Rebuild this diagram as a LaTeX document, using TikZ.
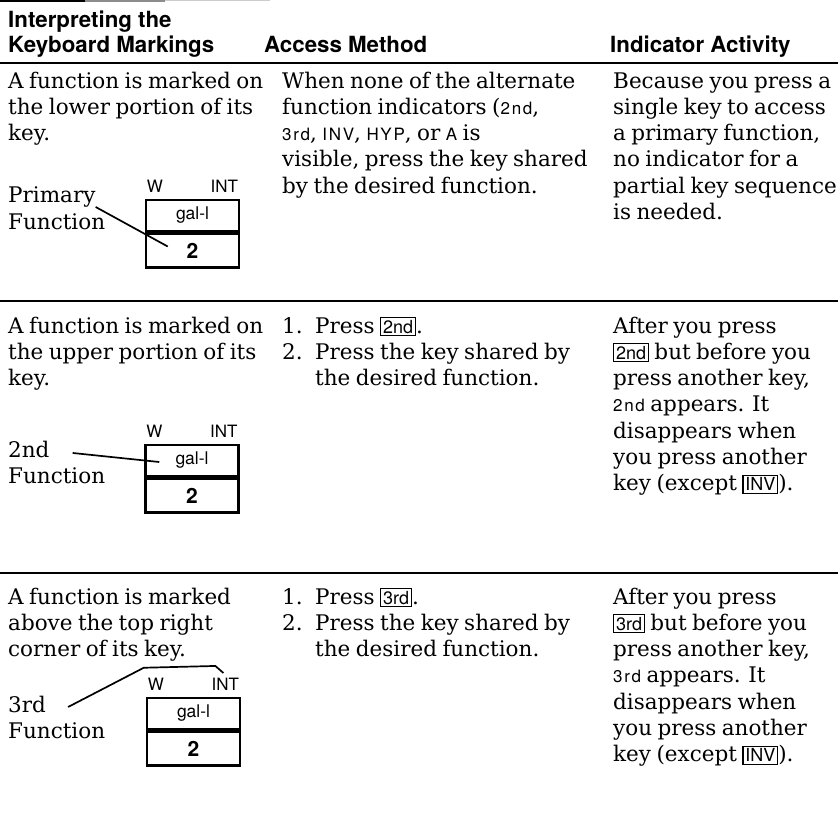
\documentclass[tikz,border=0pt]{standalone}
\usepackage{fontspec}
\setmainfont[WordSpace=0.8]{DejaVu Serif}
\setsansfont{TeX Gyre Heros}
\newfontfamily\indfont[LetterSpace=10]{TeX Gyre Heros}
\usetikzlibrary{positioning,calc}

\newcommand{\ind}[1]{{\indfont\fontsize{17}{17}\selectfont #1}}
\newcommand{\calckey}[1]{{\setlength{\fboxsep}{1.8pt}\setlength{\fboxrule}{1.1pt}\fbox{\sffamily\fontsize{18}{18}\selectfont #1}}}

\begin{document}
\begin{tikzpicture}[
    x=1pt, y=-1pt,
    % multi-line nodes sit on the baseline of their last line
    body/.style = {anchor=base west, align=left, inner sep=0pt, font=\fontsize{21.5}{26.3}\selectfont},
    head/.style = {anchor=base west, align=left, inner sep=0pt, font=\sffamily\bfseries\fontsize{22.3}{25}\selectfont},
    keytop/.style = {draw, line width=2.5pt, minimum width=93pt, minimum height=31pt, inner sep=0pt, font=\sffamily\fontsize{17.5}{17.5}\selectfont},
    keybot/.style = {keytop, minimum height=34pt, font=\sffamily\bfseries\fontsize{21}{21}\selectfont},
    keymark/.style = {inner sep=0pt, font=\sffamily\fontsize{17}{17}\selectfont},
    rule/.style = {line width=2.2pt},
    leader/.style = {line width=1.7pt}
  ]
  \useasboundingbox (0,0) rectangle (838,824);
  \fill[white] (0,0) rectangle (838,824);
  % Top edge.
  \draw[line width=2pt] (0,1) -- (85,1);
  \draw[line width=1.5pt, black!45] (85,1) -- (165,1);
  \draw[line width=1pt, black!20] (165,1) -- (270,1);

  % Header.
  \node[head] (h1) at (8,53) {Interpreting the\\Keyboard Markings};
  \node[head] (h2) at (264,53) {Access Method};
  \node[head] (h3) at (610,53) {Indicator Activity};
  \draw[rule] (0,63) -- (838,63);

  % Row 1.
  \node[body] (r1a) at (8,140.6) {A function is marked on\\the lower portion of its\\key.};
  \node[body] (r1b) at (282,193.2) {When none of the alternate\\function indicators (\ind{2nd},\\\ind{3rd}, \ind{INV}, \ind{HYP}, or \ind{A} is\\visible, press the key shared\\by the desired function.};
  \node[body] (r1c) at (613,219.5) {Because you press a\\single key to access\\a primary function,\\no indicator for a\\partial key sequence\\is needed.};
  \node[body] (lab1) at (8,202) {Primary};
  \node[body] (lab1f) at (8,229) {Function};
  \node[keytop] (k1a) at (192.5,215.5) {gal-l};
  \node[keybot, below=0pt of k1a] (k1b) {2};
  \node[keymark, above right=6pt and 2pt of k1a.north west] (w1) {W};
  \node[keymark, above left=6pt and 2pt of k1a.north east] (int1) {INT};
  \coordinate (t1) at ($(k1b.west)+(23,-4)$);
  \draw[leader] (lab1.south east) -- (t1);
  \draw[rule, line width=2pt] (0,301) -- (838,301);

  % Row 2.
  \node[body] (r2a) at (8,385.6) {A function is marked on\\the upper portion of its\\key.};
  \node[body] (n2) at (282,359.3) {1.\\2.};
  \node[body] (r2b) at (315,385.6) {Press \calckey{2nd}.\\Press the key shared by\\the desired function.};
  \node[body] (r2c) at (613,490.8) {After you press\\\calckey{2nd} but before you\\press another key,\\\ind{2nd} appears. It\\disappears when\\you press another\\key (except \calckey{INV}).};
  \node[body] (lab2) at (8,457) {2nd};
  \node[body] (lab2f) at (8,483) {Function};
  \node[keytop] (k2a) at (192,460.5) {gal-l};
  \node[keybot, below=0pt of k2a] (k2b) {2};
  \node[keymark, above right=6pt and 2pt of k2a.north west] (w2) {W};
  \node[keymark, above left=6pt and 2pt of k2a.north east] (int2) {INT};
  \coordinate (t2) at ($(k2a.west)+(15,1.5)$);
  \draw[leader] ($(lab2.east)+(23,4)$) -- (t2);
  \draw[rule, line width=2pt] (0,573) -- (838,573);

  % Row 3.
  \node[body] (r3a) at (8,656.6) {A function is marked\\above the top right\\corner of its key.};
  \node[body] (n3) at (282,630.3) {1.\\2.};
  \node[body] (r3b) at (315,656.6) {Press \calckey{3rd}.\\Press the key shared by\\the desired function.};
  \node[body] (r3c) at (613,761.8) {After you press\\\calckey{3rd} but before you\\press another key,\\\ind{3rd} appears. It\\disappears when\\you press another\\key (except \calckey{INV}).};
  \node[body] (lab3) at (8,712) {3rd};
  \node[body] (lab3f) at (8,738) {Function};
  \node[keytop] (k3a) at (193.5,713.5) {gal-l};
  \node[keybot, below=0pt of k3a] (k3b) {2};
  \node[keymark, above right=6pt and 2pt of k3a.north west] (w3) {W};
  \node[keymark, above left=6pt and 2pt of k3a.north east] (int3) {INT};
  \coordinate (t3) at ($(int3.north)+(-2,-5)$);
  \draw[leader] ($(lab3.east)+(22,3)$) -- ($(k3a.north west)+(-2,-29)$)
    -- ($(int3.north)+(-10,-12)$) -- (t3);
\end{tikzpicture}
\end{document}
